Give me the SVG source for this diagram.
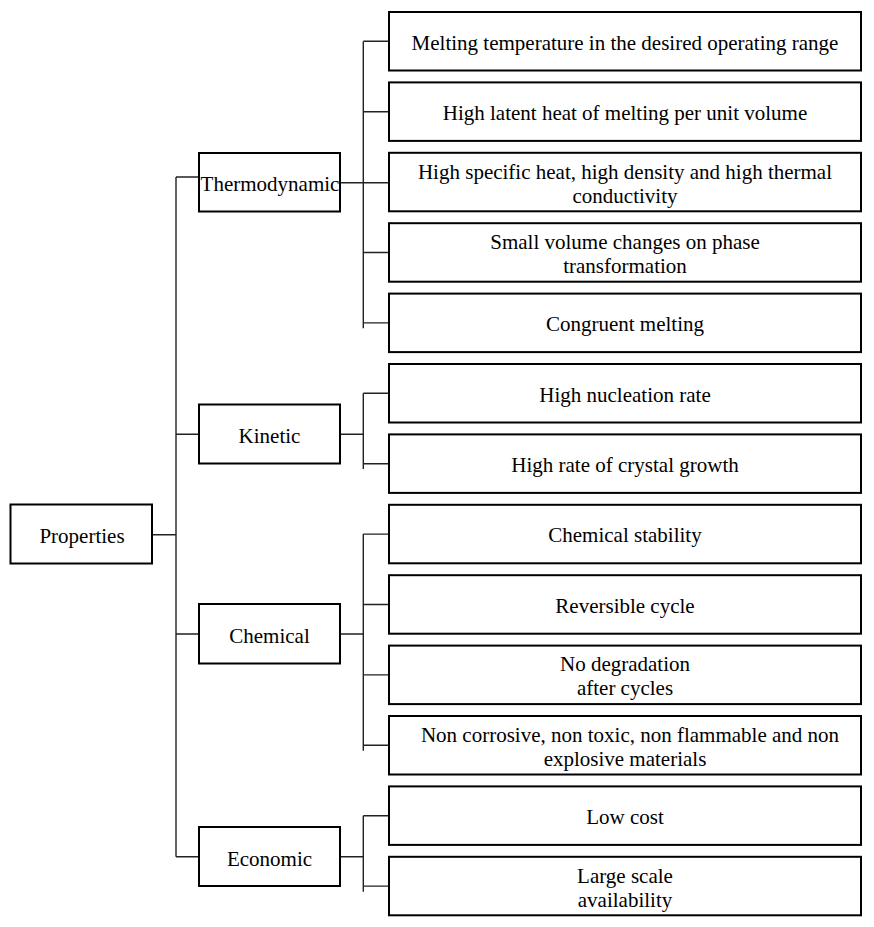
<svg xmlns="http://www.w3.org/2000/svg" width="874" height="927" viewBox="0 0 874 927">
<style>
.box{fill:#fff;stroke:#000;stroke-width:2}
.c{fill:none;stroke:#222;stroke-width:1.4}
text{font-family:"Liberation Serif","Times New Roman",serif;font-size:21px;fill:#000;text-anchor:middle}
</style>
<rect width="874" height="927" fill="#fff"/>
<g id="connectors" class="c">
<path d="M152,534.7H176M176,177V856.7M176,177H199M176,434.3H199M176,634H199M176,856.7H199"/>
<path d="M340,182.7H389M363.3,41.5V328.3M363.3,41.3H389M363.3,111.7H389M363.3,252.5H389M363.3,322.9H389"/>
<path d="M340,434.3H363.3M363.3,393.3V469M363.3,393.3H389M363.3,463.7H389"/>
<path d="M340,634H363.3M363.3,534.1V750.7M363.3,534.1H389M363.3,604.5H389M363.3,674.9H389M363.3,745.3H389"/>
<path d="M340,856.7H363.3M363.3,815.7V891.7M363.3,815.7H389M363.3,886.1H389"/>
</g>
<g id="properties"><rect class="box" x="10.5" y="504.5" width="141.5" height="59"/><text x="82" y="543">Properties</text></g>
<g id="thermodynamic"><rect class="box" x="199" y="153" width="141" height="58.5"/><text x="270" y="191">Thermodynamic</text></g>
<g id="kinetic"><rect class="box" x="199" y="404.5" width="141" height="59"/><text x="269.5" y="443">Kinetic</text></g>
<g id="chemical"><rect class="box" x="199" y="604" width="141" height="59.5"/><text x="269.5" y="642.5">Chemical</text></g>
<g id="economic"><rect class="box" x="199" y="827" width="141" height="59"/><text x="269.5" y="865.5">Economic</text></g>
<g id="t1"><rect class="box" x="389" y="12" width="472" height="58.5"/><text x="625" y="49.5">Melting temperature in the desired operating range</text></g>
<g id="t2"><rect class="box" x="389" y="82.4" width="472" height="58.5"/><text x="625" y="119.9">High latent heat of melting per unit volume</text></g>
<g id="t3"><rect class="box" x="389" y="152.8" width="472" height="58.5"/><text x="625" y="178.5">High specific heat, high density and high thermal</text><text x="625" y="202.5">conductivity</text></g>
<g id="t4"><rect class="box" x="389" y="223.2" width="472" height="58.5"/><text x="625" y="248.9">Small volume changes on phase</text><text x="625" y="272.9">transformation</text></g>
<g id="t5"><rect class="box" x="389" y="293.6" width="472" height="58.5"/><text x="625" y="331.1">Congruent melting</text></g>
<g id="k1"><rect class="box" x="389" y="364" width="472" height="58.5"/><text x="625" y="401.5">High nucleation rate</text></g>
<g id="k2"><rect class="box" x="389" y="434.4" width="472" height="58.5"/><text x="625" y="471.9">High rate of crystal growth</text></g>
<g id="c1"><rect class="box" x="389" y="504.8" width="472" height="58.5"/><text x="625" y="542.3">Chemical stability</text></g>
<g id="c2"><rect class="box" x="389" y="575.2" width="472" height="58.5"/><text x="625" y="612.7">Reversible cycle</text></g>
<g id="c3"><rect class="box" x="389" y="645.6" width="472" height="58.5"/><text x="625" y="671.3">No degradation</text><text x="625" y="695.3">after cycles</text></g>
<g id="c4"><rect class="box" x="389" y="716" width="472" height="58.5"/><text x="630" y="741.7">Non corrosive, non toxic, non flammable and non</text><text x="625" y="765.7">explosive materials</text></g>
<g id="e1"><rect class="box" x="389" y="786.4" width="472" height="58.5"/><text x="625" y="823.9">Low cost</text></g>
<g id="e2"><rect class="box" x="389" y="856.8" width="472" height="58.5"/><text x="625" y="882.5">Large scale</text><text x="625" y="906.5">availability</text></g>
</svg>
